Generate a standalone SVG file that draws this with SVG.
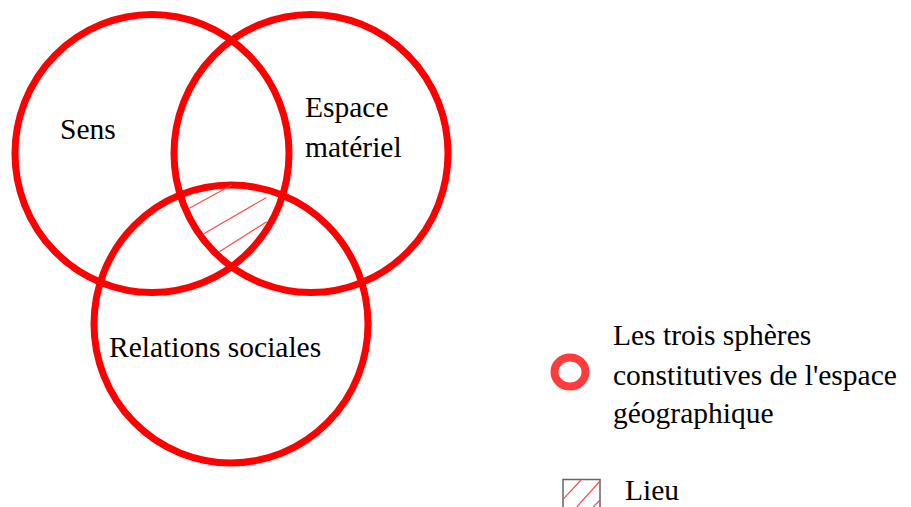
<svg xmlns="http://www.w3.org/2000/svg" width="911" height="507" viewBox="0 0 911 507">
<style>
.sphere{fill:none;stroke:#ff0000;stroke-width:7}
.hatch{stroke:#ff4d4d;stroke-width:1.2;fill:none}
.lbl{font-family:"Liberation Serif","Times New Roman",serif;font-size:29.5px;fill:#000}
</style>
<rect width="911" height="507" fill="#ffffff"/>
<g id="sens">
<ellipse class="sphere" cx="152" cy="153.5" rx="137" ry="139"/>
<text class="lbl" x="60" y="139">Sens</text>
</g>
<g id="espace-materiel">
<ellipse class="sphere" cx="311" cy="153.5" rx="137" ry="139"/>
<text class="lbl" x="305" y="117">Espace</text>
<text class="lbl" x="305" y="157">matériel</text>
</g>
<g id="relations-sociales">
<ellipse class="sphere" cx="231" cy="324" rx="137" ry="139"/>
<text class="lbl" x="109" y="357">Relations sociales</text>
</g>
<g id="lieu-hatch">
<line class="hatch" x1="189.3" y1="208.3" x2="231.7" y2="185"/>
<line class="hatch" x1="203.3" y1="234" x2="266" y2="197.7"/>
<line class="hatch" x1="219.3" y1="251.7" x2="266.7" y2="221.7"/>
</g>
<g id="legend-spheres">
<ellipse cx="570" cy="372" rx="15.5" ry="14.5" fill="none" stroke="#ff3b3b" stroke-width="8"/>
<text class="lbl" x="613" y="345">Les trois sphères</text>
<text class="lbl" x="613" y="385">constitutives de l'espace</text>
<text class="lbl" x="613" y="423">géographique</text>
</g>
<g id="legend-lieu">
<path d="M563,507 V479.5 H600 V507" fill="none" stroke="#666666" stroke-width="1.5"/>
<line class="hatch" x1="563" y1="499.3" x2="581" y2="480"/>
<line class="hatch" x1="576.7" y1="507" x2="600" y2="481"/>
<line class="hatch" x1="593.3" y1="507" x2="600" y2="500"/>
<text class="lbl" x="625" y="500">Lieu</text>
</g>
</svg>
